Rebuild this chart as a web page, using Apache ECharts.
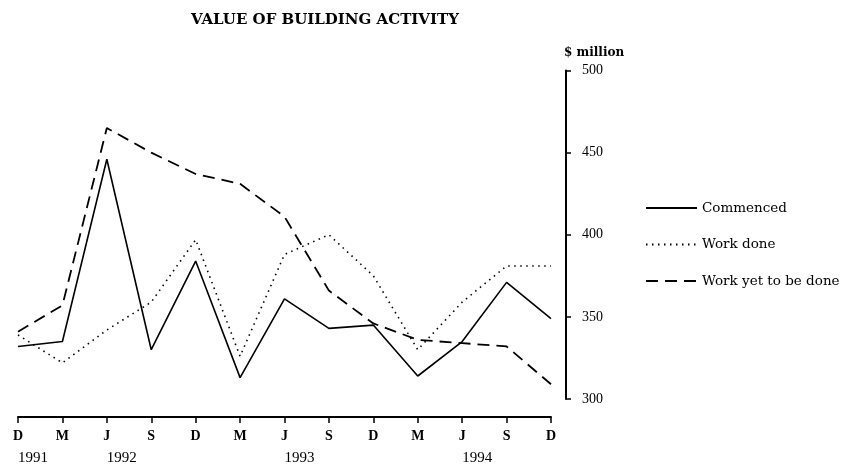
<!DOCTYPE html>
<html>
<head>
<meta charset="utf-8">
<script src="https://cdn.jsdelivr.net/npm/echarts@6/dist/echarts.min.js"></script>
<style>html,body{margin:0;padding:0;background:#fff}#c{width:856px;height:466px}</style>
</head>
<body>
<div id="c"></div>
<script>
var months = ['D','M','J','S','D','M','J','S','D','M','J','S','D'];
var years = ['1991','','1992','','','','1993','','','','1994','',''];
var commenced = [332, 335, 446, 330, 384, 313, 361, 343, 345, 314, 335, 371, 349];
var workDone = [339, 322, 342, 359, 397, 326, 388, 400, 375, 330, 359, 381, 381];
var workYet = [341, 357, 465, 450, 437, 431, 411, 366, 346, 336, 334, 332, 309];
var yTicks = {min: 300, max: 500, interval: 50};

var serif = '"Liberation Serif", "DejaVu Serif", serif';
var wide = '"DejaVu Serif", "Liberation Serif", serif';
var chart = echarts.init(document.getElementById('c'), null, {renderer: 'canvas'});
chart.setOption({
  animation: false,
  backgroundColor: '#fff',
  title: {
    text: 'VALUE OF BUILDING ACTIVITY',
    left: 186, top: 8,
    textStyle: {fontFamily: wide, fontSize: 15, fontWeight: 'bold', color: '#000'}
  },
  legend: {
    orient: 'vertical',
    left: 640, top: 196,
    itemWidth: 51, itemHeight: 14, itemGap: 22.5,
    itemStyle: {opacity: 0},
    textStyle: {fontFamily: wide, fontSize: 13.5, color: '#000'},
    data: ['Commenced', 'Work done', 'Work yet to be done']
  },
  grid: {left: 18, right: 305, top: 70.5, bottom: 66},
  xAxis: [{
    type: 'category', data: months, boundaryGap: false, position: 'bottom', offset: 18,
    axisLine: {lineStyle: {color: '#000', width: 2}},
    axisTick: {length: 6, lineStyle: {color: '#000', width: 1.5}},
    axisLabel: {interval: 0, margin: 12, fontFamily: serif, fontSize: 14, fontWeight: 'bold', color: '#000'}
  }, {
    type: 'category', data: years, boundaryGap: false, position: 'bottom', offset: 18,
    axisLine: {show: false}, axisTick: {show: false},
    axisLabel: {interval: 0, margin: 34, align: 'left', fontFamily: serif, fontSize: 15, color: '#000'}
  }],
  yAxis: {
    type: 'value', position: 'right', offset: 15,
    min: yTicks.min, max: yTicks.max, interval: yTicks.interval,
    name: '$ million', nameLocation: 'end', nameGap: 12,
    nameTextStyle: {fontFamily: wide, fontSize: 12, fontWeight: 'bold', color: '#000', align: 'left', padding: [0, 0, 0, -2]},
    axisLine: {show: true, lineStyle: {color: '#000', width: 2}},
    axisTick: {show: true, length: 5, lineStyle: {color: '#000', width: 1.5}},
    axisLabel: {margin: 16, fontFamily: serif, fontSize: 14, color: '#000'},
    splitLine: {show: false}
  },
  series: [{
    name: 'Commenced', type: 'line', data: commenced, symbol: 'none', xAxisIndex: 0,
    color: '#000', lineStyle: {color: '#000', width: 1.6, type: 'solid'}
  }, {
    name: 'Work done', type: 'line', data: workDone, symbol: 'none', xAxisIndex: 0,
    color: '#000', lineStyle: {color: '#000', width: 1.6, type: [1.5, 4.5]}
  }, {
    name: 'Work yet to be done', type: 'line', data: workYet, symbol: 'none', xAxisIndex: 0,
    color: '#000', lineStyle: {color: '#000', width: 1.8, type: [12, 7]}
  }]
});
</script>
</body>
</html>
